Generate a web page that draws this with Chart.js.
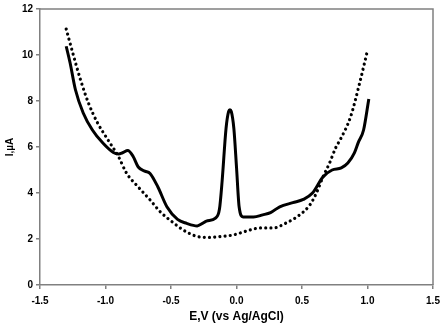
<!DOCTYPE html>
<html>
<head>
<meta charset="utf-8">
<script src="https://cdn.jsdelivr.net/npm/chart.js@4/dist/chart.umd.min.js"></script>
<style>
html,body{margin:0;padding:0;background:#fff;}
#wrap{width:443px;height:328px;position:relative;}
</style>
</head>
<body>
<div id="wrap"><canvas id="c"></canvas></div>
<script>
// Solid curve (E, V vs I, µA)
const solidE = [-1.30,-1.27,-1.23,-1.17,-1.10,-1.02,-0.94,-0.90,-0.87,-0.83,-0.79,-0.75,-0.70,-0.66,-0.60,-0.53,-0.45,-0.38,-0.30,-0.26,-0.23,-0.16,-0.13,-0.11,-0.08,-0.06,-0.05,-0.04,-0.02,0.00,0.02,0.05,0.13,0.20,0.26,0.33,0.43,0.51,0.58,0.66,0.73,0.80,0.85,0.90,0.93,0.97,1.01];
const solidI = [10.38,9.65,8.50,7.48,6.74,6.17,5.76,5.70,5.75,5.85,5.60,5.13,4.95,4.85,4.26,3.39,2.85,2.68,2.57,2.68,2.78,2.91,3.30,4.50,6.80,7.55,7.62,7.55,6.80,5.13,3.40,2.96,2.96,3.05,3.15,3.40,3.58,3.72,4.00,4.70,5.00,5.09,5.30,5.74,6.20,6.74,8.09];
// Dotted curve
const dotE = [-1.30,-1.25,-1.19,-1.13,-1.06,-0.98,-0.90,-0.84,-0.75,-0.66,-0.58,-0.49,-0.38,-0.28,-0.20,-0.10,-0.03,0.05,0.10,0.18,0.28,0.38,0.48,0.56,0.61,0.66,0.71,0.76,0.79,0.87,0.94,1.00];
const dotI = [11.13,10.09,8.91,7.91,7.04,6.30,5.57,4.87,4.26,3.70,3.17,2.74,2.30,2.09,2.07,2.12,2.17,2.30,2.39,2.48,2.48,2.70,3.04,3.48,4.00,4.70,5.30,6.00,6.30,7.30,8.78,10.20];
// Axis ticks
const xTicks = [-1.5,-1.0,-0.5,0.0,0.5,1.0,1.5];
const yTicks = [0,2,4,6,8,10,12];
const xTitle = 'E,V (vs Ag/AgCl)';
const yTitle = 'I,µA';

const toPts = (xs, ys) => xs.map((x, i) => ({x: x, y: ys[i]}));

const frame = {
  id: 'frame',
  afterDraw(chart) {
    const a = chart.chartArea, ctx = chart.ctx;
    ctx.save();
    ctx.strokeStyle = '#808080';
    ctx.lineWidth = 1.5;
    ctx.beginPath();
    ctx.moveTo(a.left, a.top);
    ctx.lineTo(a.right, a.top);
    ctx.lineTo(a.right, a.bottom);
    ctx.stroke();
    ctx.restore();
  }
};

const font = {family: '"Liberation Sans", Arial, sans-serif', weight: 'bold', size: 10};

new Chart(document.getElementById('c'), {
  type: 'scatter',
  data: {
    datasets: [
      {
        data: toPts(solidE, solidI),
        showLine: true,
        borderColor: '#000',
        borderWidth: 3,
        pointRadius: 0,
        cubicInterpolationMode: 'monotone',
        fill: false
      },
      {
        data: toPts(dotE, dotI),
        showLine: true,
        borderColor: '#000',
        borderWidth: 3.2,
        borderDash: [0.01, 5.2],
        borderCapStyle: 'round',
        pointRadius: 0,
        cubicInterpolationMode: 'monotone',
        fill: false
      }
    ]
  },
  options: {
    responsive: true,
    maintainAspectRatio: false,
    animation: false,
    devicePixelRatio: 1,
    layout: {padding: {top: 9, right: 10, left: 0, bottom: 0}},
    plugins: {legend: {display: false}, tooltip: {enabled: false}},
    scales: {
      x: {
        type: 'linear',
        min: -1.5, max: 1.5,
        afterBuildTicks: s => { s.ticks = xTicks.map(v => ({value: v})); },
        afterFit: s => { s.height = 43; s.paddingLeft = 0; s.paddingRight = 0; },
        ticks: {
          color: '#000', font: font, padding: 6,
          callback: v => v.toFixed(1),
          maxRotation: 0
        },
        grid: {drawOnChartArea: false, drawTicks: true, tickLength: 4, color: '#808080', lineWidth: 1.5},
        border: {color: '#808080', width: 1.5},
        title: {display: true, text: xTitle, color: '#000', font: {family: font.family, weight: 'bold', size: 12}, padding: {top: 5}}
      },
      y: {
        type: 'linear',
        min: 0, max: 12,
        afterBuildTicks: s => { s.ticks = yTicks.map(v => ({value: v})); },
        afterFit: s => { s.width = 40; s.paddingTop = 0; s.paddingBottom = 0; },
        ticks: {color: '#000', font: font, padding: 3, callback: v => String(v)},
        grid: {drawOnChartArea: false, drawTicks: true, tickLength: 4, color: '#808080', lineWidth: 1.5},
        border: {color: '#808080', width: 1.5},
        title: {display: true, text: yTitle, color: '#000', font: {family: font.family, weight: 'bold', size: 10}, padding: {bottom: 2}}
      }
    }
  },
  plugins: [frame]
});
</script>
</body>
</html>
